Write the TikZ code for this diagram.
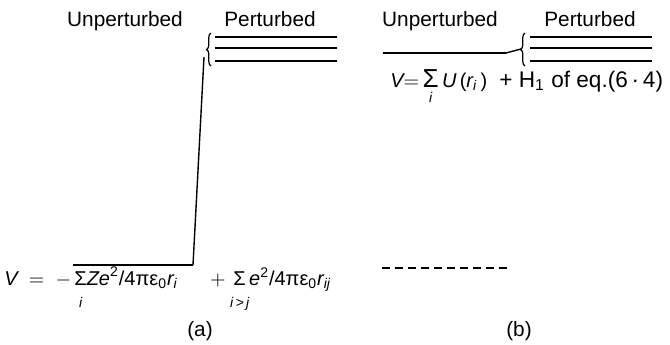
\documentclass[tikz,border=0pt]{standalone}
\usepackage{amsmath}
\usepackage{graphicx}
\usepackage{fontspec}
\setmainfont{Liberation Sans}
\usetikzlibrary{decorations.pathreplacing}

% sum sign (scaled) with its index set below, dropped by #2
\newcommand{\sumlim}[3]{\mathop{\text{\scalebox{#1}{Σ}}}\limits_{\raisebox{#2}{$\scriptstyle #3$}}\!}

\begin{document}
\begin{tikzpicture}[x=0.5pt, y=-0.5pt,
  lvl/.style={line width=0.8pt},
  tie/.style={line width=0.7pt},
  hdr/.style={font=\fontsize{10.4}{12}\selectfont, anchor=base, inner sep=0pt},
  eqn/.style={font=\fontsize{10}{12}\selectfont, anchor=base west, inner sep=0pt},
  brc/.style={decorate, decoration={brace, amplitude=2.2pt}, line width=0.6pt}]
  \useasboundingbox (0,0) rectangle (670,344);

  % (a)
  \node[hdr] (ua) at (125,26) {Unperturbed};
  \node[hdr] (pa) at (270,26) {Perturbed};
  \coordinate (ga0) at (73,265);
  \coordinate (ga1) at (193,265);
  \draw[lvl] (ga0) -- (ga1);
  \foreach \y [count=\k] in {37,48,61}
    \draw[lvl] (215,\y) coordinate (la\k) -- (337,\y) coordinate (ra\k);
  \draw[brc] (211,66) -- (211,33);
  \coordinate (ta) at (204,57);
  \draw[tie] (ga1) -- (ta);
  \node[eqn] (va) at (4,285)
    {$\textit{V}\ =\ -\sumlim{1.0}{-5pt}{\textit{i}}\textit{Ze}^{\text{2}}\text{/4πε}_{\text{0}}\textit{r}_{\textit{i}}\ \ \ \ \ +\sumlim{1.0}{-5pt}{\textit{i\,>\,j}}\textit{e}^{\text{2}}\text{/4πε}_{\text{0}}\textit{r}_{\textit{ij}}$};
  \node[hdr] (capa) at (200,336) {(a)};

  % (b)
  \node[hdr] (ub) at (440,26) {Unperturbed};
  \node[hdr] (pb) at (590,26) {Perturbed};
  \coordinate (gb0) at (383,53);
  \coordinate (gb1) at (506,53);
  \draw[lvl] (gb0) -- (gb1);
  \foreach \y [count=\k] in {37,48,61}
    \draw[lvl] (530,\y) coordinate (lb\k) -- (652,\y) coordinate (rb\k);
  \draw[brc] (525,66) -- (525,33);
  \coordinate (tb) at (521,49);
  \draw[tie] (gb1) -- (tb);
  \node[eqn] (vb) at (390,87)
    {$\textit{V}{=}\sumlim{1.3}{-1.5pt}{\textit{i}}\,\textit{U}\,\text{(}\textit{r}_{\textit{i}}\,\text{)}$};
  \node[eqn, font=\fontsize{11.3}{13}\selectfont] (hb) at (499,87) {+\ H\textsubscript{1} of eq.(6\,·\,4)};
  \draw[lvl, dash pattern=on 4pt off 2.5pt] (382,268) coordinate (db0) -- (507,268) coordinate (db1);
  \node[hdr] (capb) at (519,336) {(b)};
\end{tikzpicture}
\end{document}
